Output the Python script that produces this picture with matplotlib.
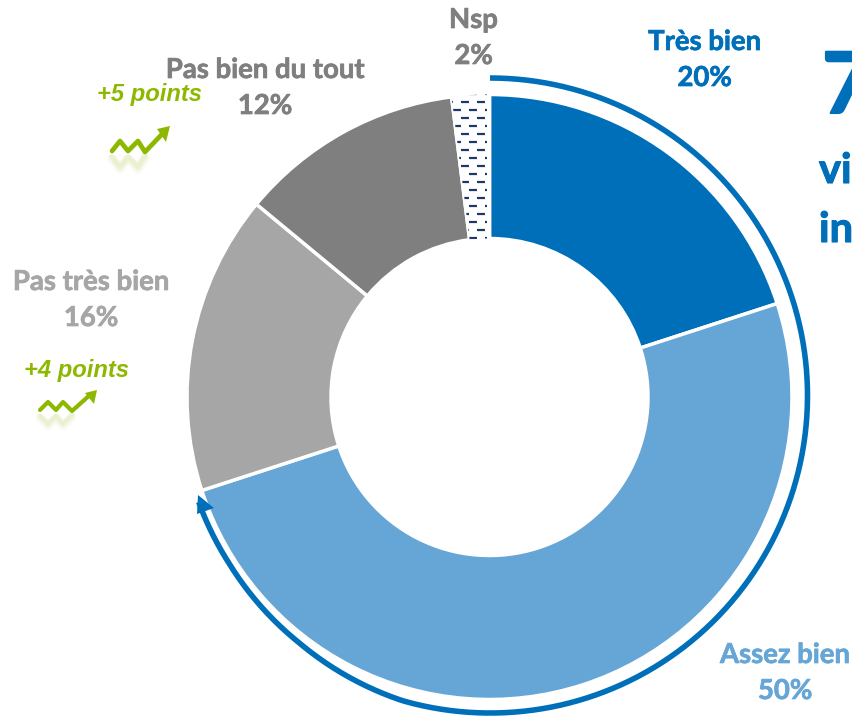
import numpy as np
import matplotlib
matplotlib.use("Agg")
from matplotlib import pyplot as plt
from matplotlib.patches import Polygon
import matplotlib.patheffects as pe

labels = ["Très bien", "Assez bien", "Pas très bien", "Pas bien du tout", "Nsp"]
values = [20, 50, 16, 12, 2]
colors = ["#006FBA", "#66A6D6", "#A6A6A6", "#7F7F7F", "#FFFFFF"]
text_colors = ["#006FBA", "#66A6D6", "#A6A6A6", "#7F7F7F", "#7F7F7F"]
label_pos = [(704.5, 42), (785, 655), (91, 282), (265, 70), (473.5, 20)]
trend_labels = ["+5 points", "+4 points"]
trend_pos = [(149.5, 94), (77, 371)]

W, H = 853, 717
BLUE = "#006FBA"
GREEN = "#8DB800"
NAVY = "#1F3864"
CX, CY, R, R_IN = 489.5, 397, 302.5, 158.5

def y(py):
    return H - py

fig = plt.figure(figsize=(W / 100, H / 100), dpi=100)
ax = fig.add_axes([0, 0, 1, 1])

wedges, _ = ax.pie(values, colors=colors, startangle=90, counterclock=False,
                   radius=R, center=(CX, y(CY)),
                   wedgeprops=dict(width=R - R_IN, edgecolor="white", linewidth=2.5))
ax.set_xlim(0, W)
ax.set_ylim(0, H)
ax.set_aspect("equal")
ax.axis("off")

# dashes inside the Nsp slice, every other row shifted
for i, py in enumerate(np.arange(94, 242, 8)):
    off = 8 if i % 2 == 0 else 0
    for px in np.arange(445 + off, 490, 16):
        ln, = ax.plot([px, min(px + 8, 487)], [y(py), y(py)], color=NAVY, lw=1.6,
                      solid_capstyle="butt", zorder=3)
        ln.set_clip_path(wedges[4])

# arc around the two positive answers
sweep = (values[0] + values[1]) / sum(values) * 2 * np.pi
t = np.linspace(0, sweep - 0.035, 300)
arc_cx, arc_cy = 490, 396
arc_r = np.interp(t, [0, 3.14, 3.42, 3.8, 4.14, 4.4], [318, 317, 317, 312, 310, 310])
ax.plot(arc_cx + arc_r * np.sin(t), y(arc_cy - arc_r * np.cos(t)), color=BLUE, lw=4.0,
        solid_capstyle="butt", zorder=4)
ax.add_patch(Polygon([(198, y(495)), (197, y(514)), (214, y(508))], closed=True,
                     color=BLUE, lw=0, zorder=5))

# thin outline so Lato gets closer to the heavier bold of the original
def heavy(c, w=0.5):
    return [pe.withStroke(linewidth=w, foreground=c)]

# labels
for name, v, c, (lx, ly) in zip(labels, values, text_colors, label_pos):
    ax.text(lx, y(ly), name, color=c, ha="center", va="center", fontsize=19.8,
            fontweight="bold", family="Lato", path_effects=heavy(c))
    ax.text(lx, y(ly + 36), f"{v}%", color=c, ha="center", va="center", fontsize=19.8,
            fontweight="bold", family="Lato", path_effects=heavy(c))

for s, (lx, ly) in zip(trend_labels, trend_pos):
    ax.text(lx, y(ly), s, color=GREEN, ha="center", va="center", fontsize=17.1,
            fontweight="bold", style="italic", family="Liberation Sans")

# green trend icons, with a faded reflection under them
def trend_icon(pts, tip, wing1, wing2, lw):
    xs = np.array([p[0] for p in pts])
    ys = np.array([p[1] for p in pts])
    base = ys[:5].max() + 2
    for k, a in enumerate([0.10, 0.06, 0.03]):
        ax.plot(xs[:5], y(2 * base - ys[:5] + k), color=GREEN, lw=lw + 2 * k, alpha=a,
                solid_capstyle="round", zorder=2)
    ax.plot(xs, y(ys), color=GREEN, lw=lw, solid_joinstyle="round",
            solid_capstyle="round", zorder=3)
    ax.add_patch(Polygon([(tip[0], y(tip[1])), (wing1[0], y(wing1[1])), (wing2[0], y(wing2[1]))],
                         closed=True, color=GREEN, lw=0, zorder=3))

trend_icon([(112, 151), (120, 141), (128, 151), (138, 141), (145, 152), (164, 132)],
           (170, 126), (157, 129), (166, 142), 3.4)
trend_icon([(40, 410), (48, 402), (56, 410), (63, 402), (72, 411), (91, 394)],
           (97, 390), (85, 393), (94, 404), 3.0)

# headline, cut by the right edge of the picture
ax.text(822, y(113), "7", color=BLUE, ha="left", va="baseline", fontsize=61,
        fontweight="bold", family="Lato", clip_on=False, path_effects=heavy(BLUE, 1.5))
ax.text(819, y(183), "vi", color=BLUE, ha="left", va="baseline", fontsize=30,
        fontweight="bold", family="Lato", path_effects=heavy(BLUE, 0.8))
ax.text(819, y(242), "in", color=BLUE, ha="left", va="baseline", fontsize=30,
        fontweight="bold", family="Lato", path_effects=heavy(BLUE, 0.8))

fig.savefig("out.png", dpi=100)
